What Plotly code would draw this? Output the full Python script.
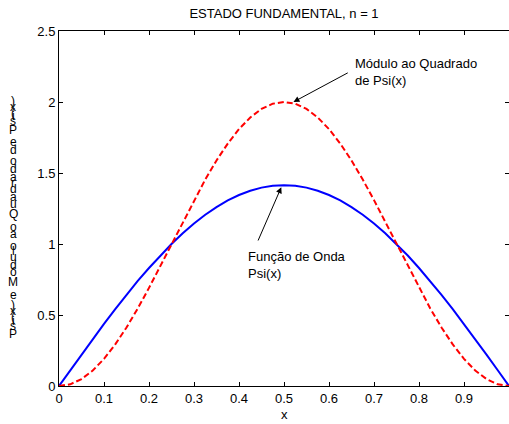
import plotly.graph_objects as go

# Data
x_vals = [0.000, 0.025, 0.050, 0.075, 0.100, 0.125, 0.150, 0.175, 0.200, 0.225,
          0.250, 0.275, 0.300, 0.325, 0.350, 0.375, 0.400, 0.425, 0.450, 0.475,
          0.500, 0.525, 0.550, 0.575, 0.600, 0.625, 0.650, 0.675, 0.700, 0.725,
          0.750, 0.775, 0.800, 0.825, 0.850, 0.875, 0.900, 0.925, 0.950, 0.975, 1.000]
psi_vals = [0.000, 0.111, 0.221, 0.330, 0.437, 0.541, 0.642, 0.740, 0.831, 0.919,
            1.000, 1.075, 1.144, 1.206, 1.260, 1.307, 1.345, 1.375, 1.397, 1.410,
            1.414, 1.410, 1.397, 1.375, 1.345, 1.307, 1.260, 1.206, 1.144, 1.075,
            1.000, 0.919, 0.831, 0.740, 0.642, 0.541, 0.437, 0.330, 0.221, 0.111, 0.000]
psi2_vals = [0.000, 0.012, 0.049, 0.109, 0.191, 0.293, 0.412, 0.546, 0.691, 0.843,
             1.000, 1.156, 1.309, 1.454, 1.588, 1.707, 1.809, 1.891, 1.951, 1.988,
             2.000, 1.988, 1.951, 1.891, 1.809, 1.707, 1.588, 1.454, 1.309, 1.156,
             1.000, 0.843, 0.691, 0.546, 0.412, 0.293, 0.191, 0.109, 0.049, 0.012, 0.000]
x_ticks = [0, 0.1, 0.2, 0.3, 0.4, 0.5, 0.6, 0.7, 0.8, 0.9, 1.0]
x_ticklabels = ["0", "0.1", "0.2", "0.3", "0.4", "0.5", "0.6", "0.7", "0.8", "0.9", "1"]
y_ticks = [0, 0.5, 1, 1.5, 2, 2.5]
y_ticklabels = ["0", "0.5", "1", "1.5", "2", "2.5"]

title_text = "ESTADO FUNDAMENTAL, n = 1"
x_label = "x"
y_label = "Psi(x) e Módulo ao Quadrado de Psi(x)"

W, H = 509, 424
ML, MT, MB, MR = 59, 31, 38, 0
PW = W - ML - MR
PH = H - MT - MB
FONT = "Liberation Sans, Arial, sans-serif"

fig = go.Figure()
fig.add_trace(go.Scatter(x=x_vals, y=psi_vals, mode="lines",
                         line=dict(color="#0000ff", width=2),
                         showlegend=False))
fig.add_trace(go.Scatter(x=x_vals, y=psi2_vals, mode="lines",
                         line=dict(color="#ff0000", width=2, dash="6px,3px"),
                         showlegend=False))

annotations = []
# arrows
annotations.append(dict(x=0.521, y=2.0, ax=0.645, ay=2.211, xref="x", yref="y",
                        axref="x", ayref="y", text="", showarrow=True,
                        arrowhead=2, arrowsize=1.2, arrowwidth=1, arrowcolor="black"))
annotations.append(dict(x=0.494, y=1.40, ax=0.441, ay=1.014, xref="x", yref="y",
                        axref="x", ayref="y", text="", showarrow=True,
                        arrowhead=2, arrowsize=1.2, arrowwidth=1, arrowcolor="black"))
# texts
annotations.append(dict(x=0.654, y=2.21, xref="x", yref="y", xanchor="left", yanchor="middle",
                        text="Módulo ao Quadrado<br>de Psi(x)", showarrow=False, align="left",
                        font=dict(family=FONT, size=13, color="black")))
annotations.append(dict(x=0.415, y=0.85, xref="x", yref="y", xanchor="left", yanchor="middle",
                        text="Função de Onda<br>Psi(x)", showarrow=False, align="left",
                        font=dict(family=FONT, size=13, color="black")))
# x label
annotations.append(dict(x=0.5, y=(H - 415 - MB) / PH, xref="paper", yref="paper",
                        xanchor="center", yanchor="middle", text=x_label, showarrow=False,
                        font=dict(family=FONT, size=13, color="black")))

# stacked y label (characters upright, stacked bottom-to-top)
adv = {"P": .667, "s": .5, "i": .222, "(": .333, "x": .5, ")": .333, " ": .278,
       "e": .556, "M": .833, "ó": .556, "d": .556, "u": .556, "l": .222, "o": .556,
       "a": .556, "Q": .778, "r": .333}
total = sum(adv.get(c, .556) for c in y_label)
y_bot, y_top = 334, 101
scale = (y_bot - y_top) / (total - adv.get(y_label[0], .556) / 2 - adv.get(y_label[-1], .556) / 2)
cum = 0.0
for i, ch in enumerate(y_label):
    w = adv.get(ch, .556)
    if i == 0:
        center = 0.0
    else:
        center = cum + w / 2 - adv.get(y_label[0], .556) / 2
    cum += w
    if ch == " ":
        continue
    py = y_bot - center * scale
    annotations.append(dict(x=(13 - ML) / PW, y=(H - MB - py) / PH, xref="paper", yref="paper",
                            xanchor="center", yanchor="middle", text=ch, showarrow=False,
                            font=dict(family=FONT, size=12, color="black")))

fig.update_layout(
    width=W, height=H,
    margin=dict(l=ML, r=MR, t=MT, b=MB, pad=0),
    paper_bgcolor="white", plot_bgcolor="white",
    font=dict(family=FONT, size=13, color="black"),
    title=dict(text=title_text, x=(ML + PW / 2) / W, xanchor="center",
               y=1 - 13 / H, yanchor="middle", yref="container",
               font=dict(family=FONT, size=13, color="black")),
    annotations=annotations,
    xaxis=dict(range=[0, 1], tickvals=x_ticks, ticktext=x_ticklabels,
               showgrid=False, zeroline=False, showline=True, linecolor="black",
               linewidth=1, mirror="ticks", ticks="inside", ticklen=4,
               tickcolor="black", tickfont=dict(family=FONT, size=13, color="black")),
    yaxis=dict(range=[0, 2.5], tickvals=y_ticks, ticktext=y_ticklabels,
               showgrid=False, zeroline=False, showline=True, linecolor="black",
               linewidth=1, mirror="ticks", ticks="inside", ticklen=4,
               tickcolor="black", tickfont=dict(family=FONT, size=13, color="black")),
)

fig.write_html("out.html")
